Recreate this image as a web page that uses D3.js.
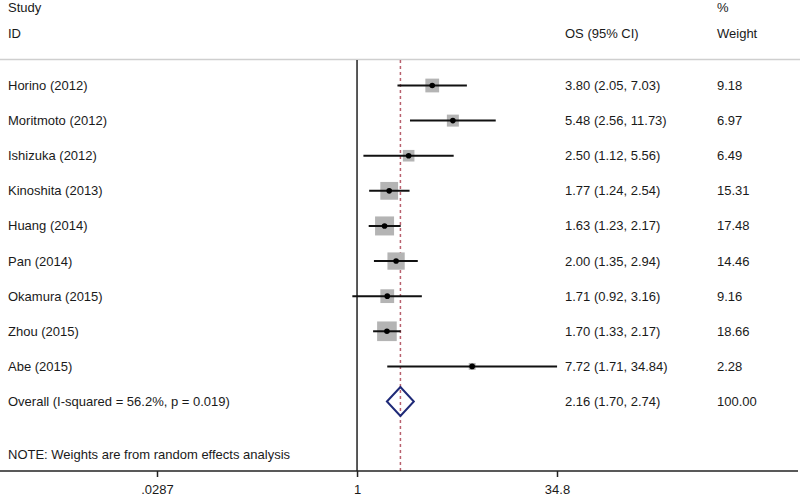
<!DOCTYPE html>
<html>
<head>
<meta charset="utf-8">
<script src="https://cdn.jsdelivr.net/npm/d3@7"></script>
<style>
  body { margin: 0; background: #fff; }
  text { font-family: "Liberation Sans", Arial, sans-serif; font-size: 13px; fill: #1a1a1a; }
</style>
</head>
<body>
<svg id="chart"></svg>
<script>
// forest plot, OS meta-analysis

/*  DATA  */
const studies = ['Horino (2012)', 'Moritmoto (2012)', 'Ishizuka (2012)', 'Kinoshita (2013)',
    'Huang (2014)', 'Pan (2014)', 'Okamura (2015)', 'Zhou (2015)', 'Abe (2015)'];
const est   = [3.80, 5.48, 2.50, 1.77, 1.63, 2.00, 1.71, 1.70, 7.72];
const lower = [2.05, 2.56, 1.12, 1.24, 1.23, 1.35, 0.92, 1.33, 1.71];
const upper = [7.03, 11.73, 5.56, 2.54, 2.17, 2.94, 3.16, 2.17, 34.84];
const weights = ['9.18', '6.97', '6.49', '15.31', '17.48', '14.46', '9.16', '18.66', '2.28'];
const ciLabels = ['3.80 (2.05, 7.03)', '5.48 (2.56, 11.73)', '2.50 (1.12, 5.56)', '1.77 (1.24, 2.54)',
    '1.63 (1.23, 2.17)', '2.00 (1.35, 2.94)', '1.71 (0.92, 3.16)', '1.70 (1.33, 2.17)', '7.72 (1.71, 34.84)'];

const overallLabel = 'Overall  (I-squared = 56.2%, p = 0.019)';
const overall = { est: 2.16, lo: 1.70, hi: 2.74, text: '2.16 (1.70, 2.74)', weight: '100.00' };

const tickValues = [0.0287, 1, 34.8];
const tickLabels = ['.0287', '1', '34.8'];

/*  SETUP  */
const width = 800, height = 497;

const svg = d3.select('#chart')
    .attr('width', width)
    .attr('height', height);

// log scale, symmetric around 1
const x = d3.scaleLog()
    .domain([0.0287, 34.8])
    .range([157, 557]);

// row positions (studies 0..8, overall 9)
const y = d3.scaleLinear()
    .domain([0, 9])
    .range([85.5, 401.5]);

const axisY = 471;

// box side ~ sqrt(weight)
const box = d3.scaleSqrt()
    .domain([0, 17.48])
    .range([0, 19]);

/*  HEADER  */
svg.append('text').attr('x', 8).attr('y', 12).text('Study');
svg.append('text').attr('x', 8).attr('y', 38).text('ID');
svg.append('text').attr('x', 565).attr('y', 38).text('OS (95% CI)');
svg.append('text').attr('x', 717).attr('y', 12).text('%');
svg.append('text').attr('x', 717).attr('y', 38).text('Weight');

svg.append('line')
    .attr('x1', 0).attr('x2', width)
    .attr('y1', 59.5).attr('y2', 59.5)
    .attr('stroke', '#cfcfcf').attr('stroke-width', 1.5);

/*  REFERENCE LINES  */
svg.append('line')
    .attr('x1', x(1)).attr('x2', x(1))
    .attr('y1', 60).attr('y2', axisY)
    .attr('stroke', '#222').attr('stroke-width', 1.5);

svg.append('line')
    .attr('x1', x(overall.est)).attr('x2', x(overall.est))
    .attr('y1', 60).attr('y2', axisY)
    .attr('stroke', '#b8606e').attr('stroke-width', 1.5)
    .attr('stroke-dasharray', '3,3');

/*  STUDY ROWS  */
const rows = svg.append('g').selectAll('g')
    .data(studies)
    .join('g');

rows.append('rect')
    .attr('x', (d, i) => x(est[i]) - box(+weights[i]) / 2)
    .attr('y', (d, i) => y(i) - box(+weights[i]) / 2)
    .attr('width', (d, i) => box(+weights[i]))
    .attr('height', (d, i) => box(+weights[i]))
    .attr('fill', '#b4b4b4');

rows.append('line')
    .attr('x1', (d, i) => x(lower[i]))
    .attr('x2', (d, i) => x(upper[i]))
    .attr('y1', (d, i) => y(i))
    .attr('y2', (d, i) => y(i))
    .attr('stroke', '#111').attr('stroke-width', 2);

rows.append('circle')
    .attr('cx', (d, i) => x(est[i]))
    .attr('cy', (d, i) => y(i))
    .attr('r', 2.8)
    .attr('fill', '#000');

rows.append('text').attr('x', 8).attr('y', (d, i) => y(i) + 4.5).text(d => d);
rows.append('text').attr('x', 565).attr('y', (d, i) => y(i) + 4.5).text((d, i) => ciLabels[i]);
rows.append('text').attr('x', 717).attr('y', (d, i) => y(i) + 4.5).text((d, i) => weights[i]);

/*  OVERALL  */
const yo = y(9);
svg.append('path')
    .attr('d', d3.line()([
        [x(overall.lo), yo], [x(overall.est), yo - 14.5],
        [x(overall.hi), yo], [x(overall.est), yo + 14.5]
    ]) + 'Z')
    .attr('fill', 'none')
    .attr('stroke', '#1f2a78').attr('stroke-width', 2);

svg.append('text').attr('x', 8).attr('y', yo + 4.5).text(overallLabel);
svg.append('text').attr('x', 565).attr('y', yo + 4.5).text(overall.text);
svg.append('text').attr('x', 717).attr('y', yo + 4.5).text(overall.weight);

svg.append('text').attr('x', 8).attr('y', 459).text('NOTE: Weights are from random effects analysis');

/*  AXIS  */
svg.append('line')
    .attr('x1', 0).attr('x2', 798)
    .attr('y1', axisY).attr('y2', axisY)
    .attr('stroke', '#222').attr('stroke-width', 1.5);

const axis = d3.axisBottom(x)
    .tickValues(tickValues)
    .tickFormat((d, i) => tickLabels[i])
    .tickSize(6)
    .tickPadding(8);

const gAxis = svg.append('g')
    .attr('transform', `translate(0,${axisY})`)
    .call(axis);

gAxis.select('.domain').remove();
gAxis.selectAll('line').attr('stroke', '#222').attr('stroke-width', 1.5);
gAxis.selectAll('text')
    .style('font-family', '"Liberation Sans", Arial, sans-serif')
    .style('font-size', '13px')
    .attr('fill', '#1a1a1a');
</script>
</body>
</html>
